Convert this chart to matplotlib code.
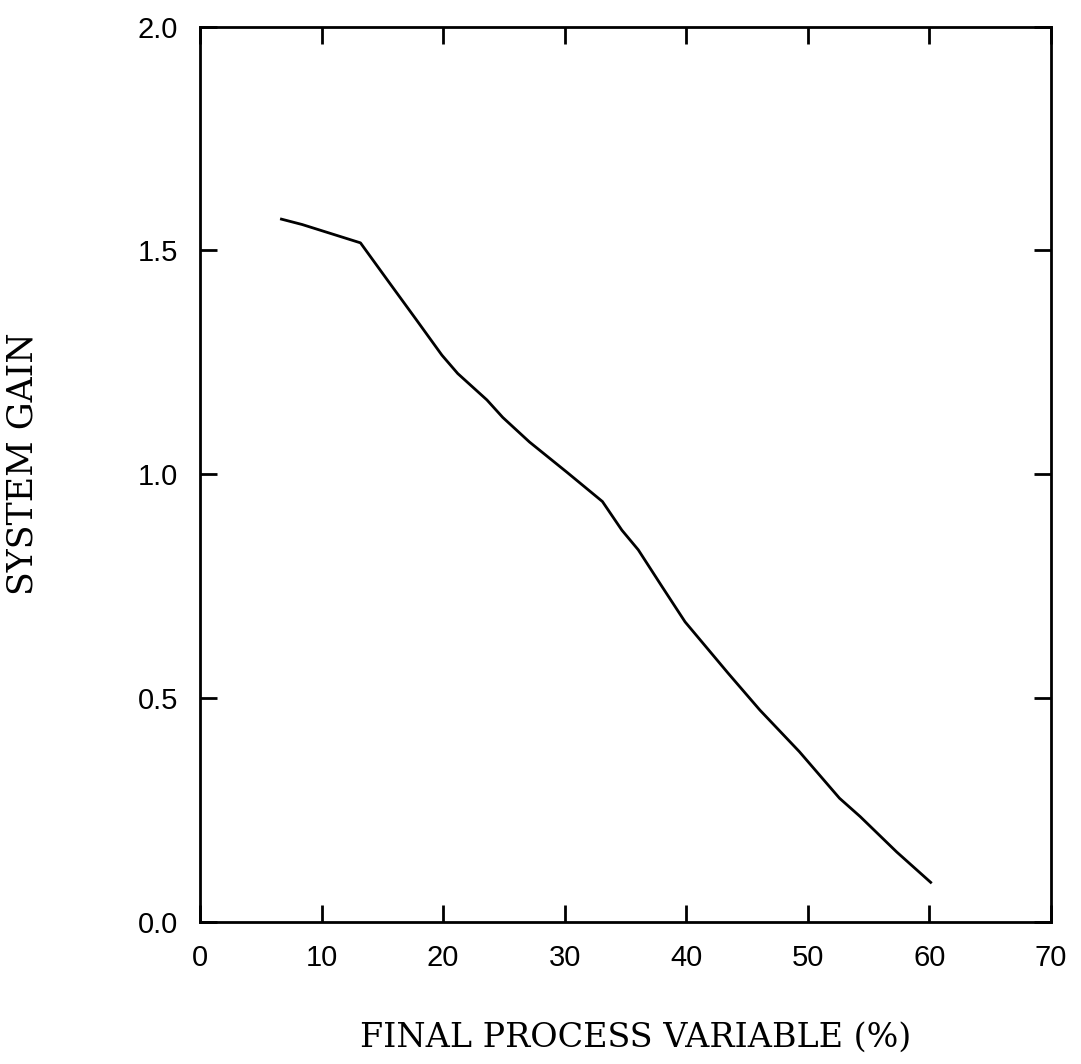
import matplotlib
matplotlib.use("Agg")
import matplotlib.pyplot as plt

# final process variable (%) vs. system gain
pv_percent = [6.7, 8.4, 13.2, 15.6, 17.8, 19.9, 21.2, 23.6, 24.9, 27.1,
              30.2, 33.1, 34.7, 36.05, 38.0, 39.9, 43.45, 46.05, 49.3,
              52.6, 54.3, 57.3, 60.1]
gain = [1.570, 1.558, 1.517, 1.427, 1.345, 1.266, 1.225, 1.166, 1.127, 1.072,
        1.004, 0.939, 0.875, 0.831, 0.749, 0.670, 0.555, 0.473, 0.380,
        0.276, 0.235, 0.156, 0.088]

x_ticks = [0, 10, 20, 30, 40, 50, 60, 70]
y_ticks = [0.0, 0.5, 1.0, 1.5, 2.0]

fig = plt.figure(figsize=(10.81, 10.64), dpi=100)
ax = fig.add_axes([0.185, 0.1337, 0.7873, 0.8412])

ax.plot(pv_percent, gain, color="black", linewidth=2.0)

ax.set_xlim(0, 70)
ax.set_ylim(0, 2.0)
ax.set_xticks(x_ticks)
ax.set_yticks(y_ticks)
ax.set_xticklabels([str(t) for t in x_ticks])
ax.set_yticklabels([f"{t:.1f}" for t in y_ticks])

for side in ax.spines.values():
    side.set_linewidth(2.0)

ax.tick_params(direction="in", length=12, width=2.0, top=True, right=True,
               labelsize=21, pad=16)
for lbl in ax.get_xticklabels() + ax.get_yticklabels():
    lbl.set_fontfamily("Liberation Sans")

ax.set_xlabel("FINAL PROCESS VARIABLE (%)", fontsize=24, family="DejaVu Serif")
ax.set_ylabel("SYSTEM GAIN", fontsize=25, family="DejaVu Serif")
ax.xaxis.set_label_coords(0.512, -0.112)
ax.yaxis.set_label_coords(-0.188, 0.512)

fig.savefig("out.png", dpi=100)
